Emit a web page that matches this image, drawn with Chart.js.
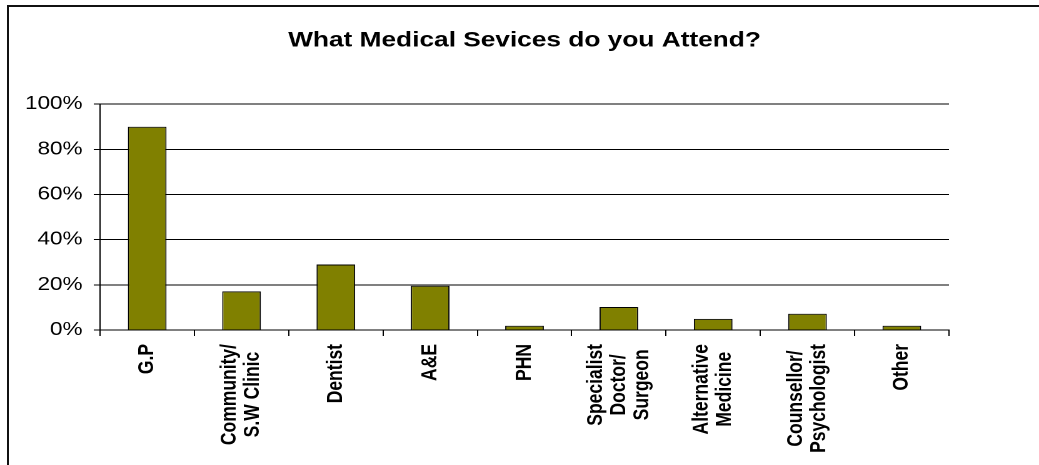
<!DOCTYPE html>
<html lang="en">
<head>
  <title>What Medical Sevices do you Attend?</title>
  <meta charset="utf-8">
  <script src="https://cdn.jsdelivr.net/npm/chart.js@4.4.1/dist/chart.umd.min.js"></script>
  <style>
    body { margin: 0; background: #fff; overflow: hidden; }
    /* outer frame, only left and top edges show in the window */
    .frame {
      position: absolute; left: 7px; top: 5px;
      width: 1100px; height: 500px;
      border: 2px solid #111;
    }
    /* the original picture is stretched sideways, so draw narrow and widen */
    .wrap {
      position: absolute; left: 0; top: 0;
      width: 831px; height: 465px;
      transform: scaleX(1.25030);
      transform-origin: 0 0;
    }
  </style>
</head>
<body>
<div class="frame"></div>
<div class="wrap"><canvas id="myChart"></canvas></div>
<script>
  var categories = [
    ['G.P'],
    ['Community/', 'S.W Clinic'],
    ['Dentist'],
    ['A&E'],
    ['PHN'],
    ['Specialist', 'Doctor/', 'Surgeon'],
    ['Alternative', 'Medicine'],
    ['Counsellor/', 'Psychologist'],
    ['Other']
  ];
  var attendance = [90, 17.1, 29, 19.6, 1.9, 10.2, 4.9, 7.2, 1.9];
  var yTicks = [0, 20, 40, 60, 80, 100];

  var fontFamily = '"Liberation Sans", Arial, sans-serif';

  // category labels: rotated, lines centred on each other
  var xLabels = {
    id: 'xLabels',
    afterDraw: function(chart) {
      var ctx = chart.ctx;
      var x = chart.scales.x;
      ctx.save();
      ctx.font = 'bold 17.5px ' + fontFamily;
      ctx.fillStyle = '#000';
      ctx.textAlign = 'center';
      ctx.textBaseline = 'middle';
      categories.forEach(function(lines, i) {
        var px = x.getPixelForValue(i);
        var w = Math.max.apply(null, lines.map(function(l) { return ctx.measureText(l).width; }));
        ctx.save();
        ctx.translate(px, x.top + 14);
        ctx.rotate(-Math.PI / 2);
        lines.forEach(function(l, j) {
          ctx.fillText(l, -w / 2, (j - (lines.length - 1) / 2) * 18.5);
        });
        ctx.restore();
      });
      ctx.restore();
    }
  };

  var ctx = document.getElementById('myChart').getContext('2d');
  var chart = new Chart(ctx, {
    type: 'bar',
    data: {
      labels: categories,
      datasets: [{
        data: attendance,
        backgroundColor: '#808000',
        borderColor: '#000',
        borderWidth: 1,
        barPercentage: 0.41,
        categoryPercentage: 1
      }]
    },
    options: {
      responsive: true,
      maintainAspectRatio: false,
      devicePixelRatio: 2,
      animation: false,
      layout: { padding: { left: 0, right: 72, top: 0, bottom: 0 } },
      plugins: {
        legend: { display: false },
        title: {
          display: true,
          fullSize: false,
          text: 'What Medical Sevices do you Attend?',
          color: '#000',
          font: { family: fontFamily, size: 21, weight: 'bold' },
          padding: { top: 28, bottom: 51 }
        }
      },
      scales: {
        x: {
          grid: { drawOnChartArea: false, drawTicks: true, tickLength: 6, color: '#000', offset: true },
          border: { display: true, color: '#000', width: 1 },
          ticks: { display: false },
          afterFit: function(s) { s.height = 135; }
        },
        y: {
          min: 0,
          max: 100,
          grid: { color: '#000', lineWidth: 1, tickLength: 5 },
          border: { display: true, color: '#000', width: 1 },
          ticks: {
            color: '#000',
            padding: 9,
            font: { family: fontFamily, size: 18 },
            callback: function(v) { return v + '%'; }
          },
          afterBuildTicks: function(s) {
            s.ticks = yTicks.map(function(v) { return { value: v }; });
          },
          afterFit: function(s) { s.width = 80; }
        }
      }
    },
    plugins: [xLabels]
  });
</script>
</body>
</html>
